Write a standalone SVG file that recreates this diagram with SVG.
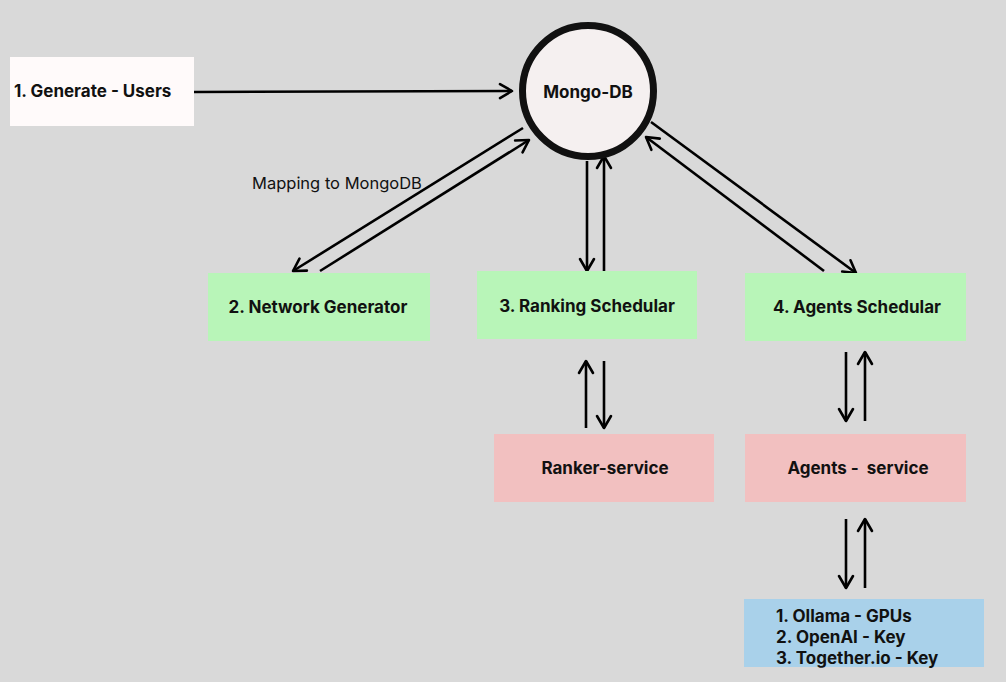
<svg xmlns="http://www.w3.org/2000/svg" width="1006" height="682" viewBox="0 0 1006 682">
<style>
.lbl{font-family:Inter,"Noto Sans","Liberation Sans",sans-serif;font-weight:700;font-size:17px;fill:#111;}
.c{text-anchor:middle;}
.plain{font-family:Inter,"Noto Sans","Liberation Sans",sans-serif;font-weight:400;font-size:16.5px;fill:#111;}
.green{fill:#b8f5b8;}
.pink{fill:#f2c0c0;}
.ln{stroke:#000;stroke-width:2.6;fill:none;marker-end:url(#ah);}
</style>
<defs>
<marker id="ah" markerUnits="userSpaceOnUse" markerWidth="18" markerHeight="18" viewBox="0 0 18 18" refX="15" refY="9" orient="auto">
<path d="M3,2 L15,9 L3,16" fill="none" stroke="#000" stroke-width="2.6" stroke-linecap="round" stroke-linejoin="round"/>
</marker>
</defs>
<rect width="1006" height="682" fill="#d9d9d9"/>
<g id="connectors">
<line class="ln" x1="194" y1="92" x2="512" y2="91"/>
<line class="ln" x1="523" y1="128" x2="293" y2="271"/>
<line class="ln" x1="320" y1="271" x2="529" y2="140"/>
<line class="ln" x1="587" y1="161" x2="587" y2="271"/>
<line class="ln" x1="604" y1="272" x2="604" y2="156"/>
<line class="ln" x1="651" y1="122" x2="856" y2="273"/>
<line class="ln" x1="824" y1="271" x2="646" y2="137"/>
<line class="ln" x1="586" y1="428" x2="586" y2="361"/>
<line class="ln" x1="604" y1="361" x2="604" y2="428"/>
<line class="ln" x1="846" y1="352" x2="846" y2="421"/>
<line class="ln" x1="865" y1="421" x2="865" y2="352"/>
<line class="ln" x1="846" y1="519" x2="846" y2="588"/>
<line class="ln" x1="865" y1="588" x2="865" y2="519"/>
<text class="plain" x="252" y="189">Mapping to MongoDB</text>
</g>
<g id="generate-users">
<rect x="10" y="57" width="184" height="69" fill="#fffafa"/>
<text class="lbl" x="14" y="97">1. Generate - Users</text>
</g>
<g id="mongo-db">
<circle cx="588" cy="91" r="65.5" fill="#f5f0f0" stroke="#111" stroke-width="7"/>
<text class="lbl c" x="588" y="98">Mongo-DB</text>
</g>
<g id="network-generator">
<rect class="green" x="208" y="273" width="222" height="68"/>
<text class="lbl c" x="318" y="313">2. Network Generator</text>
</g>
<g id="ranking-schedular">
<rect class="green" x="477" y="271" width="220" height="68"/>
<text class="lbl c" x="587" y="312">3. Ranking Schedular</text>
</g>
<g id="agents-schedular">
<rect class="green" x="745" y="273" width="221" height="68"/>
<text class="lbl c" x="857" y="313">4. Agents Schedular</text>
</g>
<g id="ranker-service">
<rect class="pink" x="494" y="434" width="220" height="68"/>
<text class="lbl c" x="605" y="474">Ranker-service</text>
</g>
<g id="agents-service">
<rect class="pink" x="745" y="434" width="221" height="68"/>
<text class="lbl c" x="858" y="474" style="white-space:pre">Agents -  service</text>
</g>
<g id="providers">
<rect x="744" y="599" width="240" height="68" fill="#a9d1ea"/>
<text class="lbl" x="776" y="622">1. Ollama - GPUs</text>
<text class="lbl" x="776" y="643">2. OpenAI - Key</text>
<text class="lbl" x="776" y="664">3. Together.io - Key</text>
</g>
</svg>
